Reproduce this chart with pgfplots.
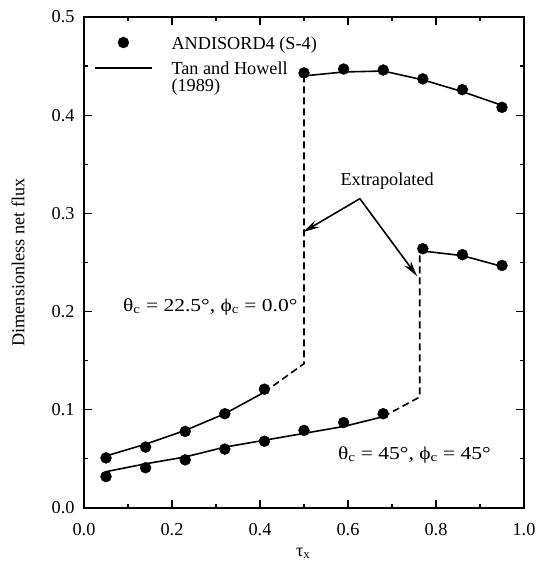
\documentclass[border=0pt]{standalone}
\usepackage{fontspec}
\setmainfont{Liberation Serif}
\newfontfamily\lab[FakeStretch=1.18]{Liberation Serif}
\usepackage{pgfplots}
\pgfplotsset{compat=1.18}
\usetikzlibrary{arrows.meta}
\newcommand{\F}{\fontsize{18.3}{15}\selectfont}
\begin{document}
\begin{tikzpicture}[font=\F]
\begin{axis}[
  scale only axis,
  width=440bp, height=491bp,
  xmin=0, xmax=1, ymin=0, ymax=0.5,
  xtick={0,0.2,...,1.0}, ytick={0,0.1,...,0.5},
  minor x tick num=1, minor y tick num=1,
  tick align=inside, major tick length=8bp, minor tick length=4bp,
  every tick/.style={black, line width=1.2pt},
  axis line style={line width=1.6pt},
  /pgf/number format/assume math mode=true,
  /pgf/number format/.cd, fixed, fixed zerofill, precision=1, /pgfplots/.cd,
  tick label style={font=\F},
  xticklabel style={yshift=-12bp},
  yticklabel style={xshift=-6bp},
  xlabel={τ\textsubscript{x}},
  ylabel={Dimensionless net flux},
  every axis x label/.style={at={(axis description cs:0.498,-0.098)}, anchor=base, font=\F},
  every axis y label/.style={at={(axis description cs:-0.15,0.5)}, anchor=center, rotate=90, font=\F},
  clip=false,
  legend style={draw=none, fill=none, at={(axis description cs:0.016,0.967)}, anchor=north west,
    nodes={font=\F, inner sep=1pt}, cells={anchor=base west}, row sep=9.5bp,
    /tikz/every odd column/.append style={column sep=18bp}},
]
\addlegendimage{black,
  legend image code/.code={\path (0cm,0cm) (2cm,0cm); \fill[black] (1cm,6.5bp) circle (5.5pt);}}
\addlegendentry{ANDISORD4 (S-4)}
\addlegendimage{black,
  legend image code/.code={\draw[black, line width=1.6pt] (0cm,6.5bp) -- (2cm,6.5bp);}}
\addlegendentry{{\begin{tabular}[t]{@{}l@{}}Tan and Howell\\(1989)\end{tabular}}}

% theta_c = 22.5, phi_c = 0 : Tan and Howell
\addplot[black, line width=1.6pt, forget plot] coordinates {
(0.05,0.053) (0.14,0.065) (0.23,0.079) (0.32,0.096) (0.41,0.118)};
\addplot[black, line width=1.6pt, dash pattern=on 7bp off 4bp, forget plot] coordinates {
(0.41,0.118) (0.50,0.147) (0.50,0.440)};
\addplot[black, line width=1.6pt, forget plot] coordinates {
(0.50,0.440) (0.59,0.444) (0.68,0.445) (0.77,0.436) (0.86,0.424) (0.95,0.410)};
% ANDISORD4
\addplot[only marks, mark=*, mark size=5.5pt, black, forget plot] coordinates {
(0.05,0.051) (0.14,0.062) (0.23,0.078) (0.32,0.096) (0.41,0.121)
(0.50,0.443) (0.59,0.447) (0.68,0.446) (0.77,0.437) (0.86,0.426) (0.95,0.408)};

% theta_c = 45, phi_c = 45 : Tan and Howell
\addplot[black, line width=1.6pt, forget plot] coordinates {
(0.05,0.037) (0.14,0.045) (0.23,0.052) (0.32,0.062) (0.41,0.069) (0.50,0.076) (0.59,0.083) (0.68,0.093)};
\addplot[black, line width=1.6pt, dash pattern=on 7bp off 4bp, forget plot] coordinates {
(0.68,0.093) (0.763,0.113) (0.763,0.262)};
\addplot[black, line width=1.6pt, forget plot] coordinates {
(0.763,0.262) (0.86,0.257) (0.95,0.246)};
% ANDISORD4
\addplot[only marks, mark=*, mark size=5.5pt, black, forget plot] coordinates {
(0.05,0.032) (0.14,0.041) (0.23,0.049) (0.32,0.060) (0.41,0.068) (0.50,0.079) (0.59,0.087) (0.68,0.096)
(0.77,0.264) (0.86,0.258) (0.95,0.247)};

% arrows
\addplot[black, line width=1.6pt, -{Stealth[length=16bp,width=8bp]}, forget plot] coordinates {(0.627,0.315) (0.498,0.281)};
\addplot[black, line width=1.6pt, -{Stealth[length=16bp,width=8bp]}, forget plot] coordinates {(0.627,0.315) (0.757,0.236)};

\node at (axis cs:0.689,0.333) {Extrapolated};
\node[anchor=west, inner sep=0pt] at (axis cs:0.0886,0.2047) {\lab θ\textsubscript{c} = 22.5°, ϕ\textsubscript{c} = 0.0°};
\node[anchor=west, inner sep=0pt] at (axis cs:0.577,0.054) {\lab θ\textsubscript{c} = 45°, ϕ\textsubscript{c} = 45°};
\end{axis}
\pgfresetboundingbox
\path[use as bounding box] ([shift={(-84bp,-62bp)}]current axis.south west) rectangle ([shift={(14bp,17bp)}]current axis.north east);
\end{tikzpicture}
\end{document}
